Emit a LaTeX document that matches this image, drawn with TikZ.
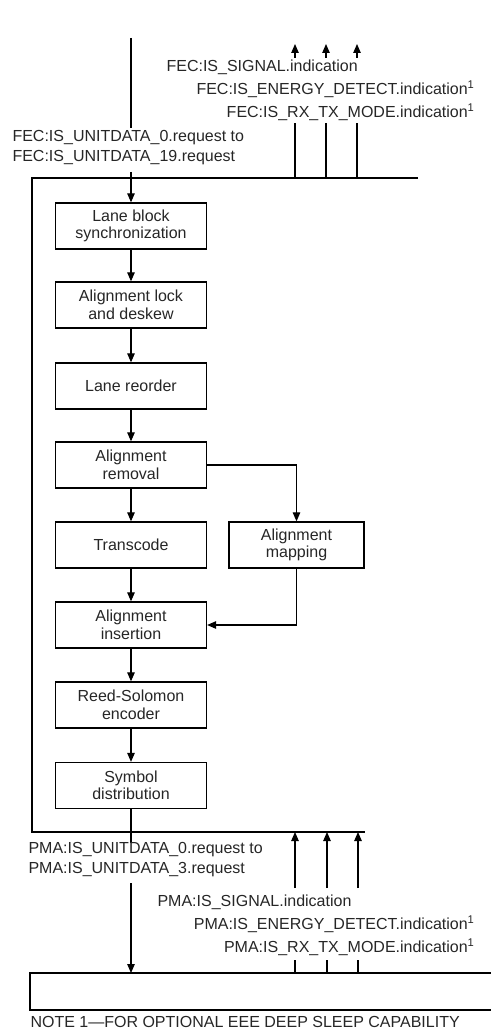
\documentclass[tikz,border=0pt]{standalone}
\usepackage{fontspec}
\setmainfont{Liberation Sans}
\usetikzlibrary{arrows.meta}
\begin{document}
\begin{tikzpicture}[x=1pt,y=-1pt,
  line width=1.1pt,
  every node/.style={font=\fontsize{16}{17.5}\selectfont, text=black!85, inner sep=0pt},
  box/.style={draw, line width=1.3pt, minimum width=151pt, minimum height=46pt, align=center},
  arr/.style={-{Triangle[length=9pt,width=7.5pt]}},
  lbl/.style={align=left, font=\fontsize{16}{20}\selectfont}
]
\useasboundingbox (0,0) rectangle (490,1035);

% frame
\coordinate (fTR) at (418,178);
\coordinate (fTL) at (32,178);
\coordinate (fBL) at (32,832);
\coordinate (fBR) at (365,832);
\draw[line width=1.3pt] (fTR) -- (fTL) -- (fBL) -- (fBR);

% boxes
\node[box] (b1) at (131,226) {Lane block\\synchronization};
\node[box] (b2) at (131,305) {Alignment lock\\and deskew};
\node[box] (b3) at (131,386) {Lane reorder};
\node[box] (b4) at (131,465) {Alignment\\removal};
\node[box] (b5) at (131,545) {Transcode};
\node[box, minimum width=135pt] (map) at (296.5,545) {Alignment\\mapping};
\node[box] (b6) at (131,625) {Alignment\\insertion};
\node[box] (b7) at (131,705) {Reed-Solomon\\encoder};
\node[box] (b8) at (131,785.5) {Symbol\\distribution};

\draw[arr] (b1) -- (b2);
\draw[arr] (b2) -- (b3);
\draw[arr] (b3) -- (b4);
\draw[arr] (b4) -- (b5);
\draw[arr] (b5) -- (b6);
\draw[arr] (b6) -- (b7);
\draw[arr] (b7) -- (b8);
\draw[arr] (b4.east) -| (map.north);
\draw[arr] (map.south) |- (b6.east);

% top input
\coordinate (inA) at (131,38);
\coordinate (inB) at (131,128);
\coordinate (inC) at (131,172);
\draw (inA) -- (inB);
\node[lbl, anchor=west] (fecreq) at (12,148) {FEC:IS\_UNITDATA\_0.request to\\FEC:IS\_UNITDATA\_19.request};
\draw[arr] (inC) -- (b1.north);

% FEC indications
\foreach \x/\n in {295/1,326/2,357/3}{
  \coordinate (fu\n) at (\x,123);
  \coordinate (fb\n) at (\x,178);
  \coordinate (ft\n) at (\x,58);
  \coordinate (fh\n) at (\x,44);
  \draw (fb\n) -- (fu\n);
  \draw[arr] (ft\n) -- (fh\n);
}
\node[anchor=west] (fsig) at (166,67) {FEC:IS\_SIGNAL.indication};
\node[anchor=east] (fen) at (475,89) {FEC:IS\_ENERGY\_DETECT.indication\textsuperscript{1}};
\node[anchor=east] (frx) at (475,112) {FEC:IS\_RX\_TX\_MODE.indication\textsuperscript{1}};

% output
\coordinate (outA) at (131,843);
\coordinate (outB) at (131,883);
\draw (b8.south) -- (outA);
\node[lbl, anchor=west] (pmareq) at (28,860) {PMA:IS\_UNITDATA\_0.request to\\PMA:IS\_UNITDATA\_3.request};

% bottom box
\coordinate (bbTR) at (492,973);
\coordinate (bbTL) at (30,973);
\coordinate (bbBL) at (30,1010);
\coordinate (bbBR) at (492,1010);
\coordinate (bbIn) at (131,973);
\draw[line width=1.3pt] (bbTR) -- (bbTL) -- (bbBL) -- (bbBR);
\draw[arr] (outB) -- (bbIn);

% PMA indications
\foreach \x/\n in {295/1,327/2,358/3}{
  \coordinate (pl\n) at (\x,888);
  \coordinate (ph\n) at (\x,832);
  \coordinate (ps\n) at (\x,960);
  \coordinate (pb\n) at (\x,973);
  \draw[arr] (pl\n) -- (ph\n);
  \draw (ps\n) -- (pb\n);
}
\node[anchor=west] (psig) at (157,902) {PMA:IS\_SIGNAL.indication};
\node[anchor=east] (pen) at (475,924) {PMA:IS\_ENERGY\_DETECT.indication\textsuperscript{1}};
\node[anchor=east] (prx) at (475,947) {PMA:IS\_RX\_TX\_MODE.indication\textsuperscript{1}};

\node[anchor=west] (note) at (30,1022) {NOTE 1---FOR OPTIONAL EEE DEEP SLEEP CAPABILITY};
\end{tikzpicture}
\end{document}
